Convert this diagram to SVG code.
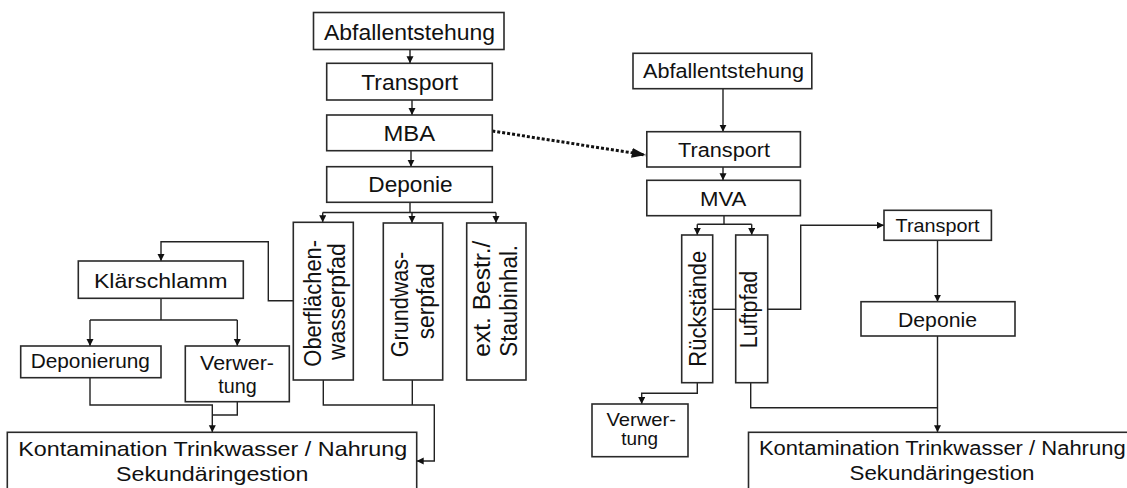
<svg xmlns="http://www.w3.org/2000/svg" width="1127" height="488" viewBox="0 0 1127 488">
<defs>
<style>
.box{fill:#fff;stroke:#2a2a2a;stroke-width:1.6}
.t{font-family:"Liberation Sans",Arial,sans-serif;fill:#111;text-anchor:middle}
.c{fill:none;stroke:#222;stroke-width:1.4}
.dot{fill:none;stroke:#111;stroke-width:3;stroke-dasharray:3 2}
</style>
<marker id="ah" markerUnits="userSpaceOnUse" markerWidth="8" markerHeight="8" refX="7" refY="3.5" orient="auto"><path d="M0,0 L7,3.5 L0,7 z" fill="#111"/></marker>
<marker id="ahBig" markerUnits="userSpaceOnUse" markerWidth="16" markerHeight="12" refX="14" refY="5" orient="auto"><path d="M0,0 L14,5 L0,10 z" fill="#111"/></marker>
</defs>
<rect x="0" y="0" width="1127" height="488" fill="#fff"/>

<g id="connectors">
<path class="c" d="M410,49.3 V63.3" marker-end="url(#ah)"/>
<path class="c" d="M412,100 V115" marker-end="url(#ah)"/>
<path class="c" d="M411,150.7 V166.7" marker-end="url(#ah)"/>
<path class="c" d="M410,202.3 V212.5 M322.7,212.5 H496"/>
<path class="c" d="M322.7,212.5 V222.3" marker-end="url(#ah)"/>
<path class="c" d="M412,212.5 V223" marker-end="url(#ah)"/>
<path class="c" d="M496,212.5 V223" marker-end="url(#ah)"/>
<path class="c" d="M293.3,300.7 H268.3 V241.7 H161 V261" marker-end="url(#ah)"/>
<path class="c" d="M161,298.3 V320 M90,320 H237.3"/>
<path class="c" d="M90,320 V346" marker-end="url(#ah)"/>
<path class="c" d="M237.3,320 V346" marker-end="url(#ah)"/>
<path class="c" d="M90,377.7 V405 H212.3 V432.3" marker-end="url(#ah)"/>
<path class="c" d="M237.3,401.7 V415 H212.3"/>
<path class="c" d="M323.3,380 V405 H434.3 V461 H416.7" marker-end="url(#ah)"/>
<path class="c" d="M412.3,380 V405"/>
<path class="dot" d="M492.3,131 L645.7,155" marker-end="url(#ahBig)"/>
<path class="c" d="M723,88.7 V131.7" marker-end="url(#ah)"/>
<path class="c" d="M723,167 V180.3" marker-end="url(#ah)"/>
<path class="c" d="M724,215.7 V224.3 M697.3,224.3 H751.7"/>
<path class="c" d="M697.3,224.3 V235" marker-end="url(#ah)"/>
<path class="c" d="M751.7,224.3 V235" marker-end="url(#ah)"/>
<path class="c" d="M712.7,309.3 H735.7"/>
<path class="c" d="M767.7,309.3 H800.7 V225.3 H884" marker-end="url(#ah)"/>
<path class="c" d="M937.5,240.3 V301.7" marker-end="url(#ah)"/>
<path class="c" d="M937.5,336 V432.3" marker-end="url(#ah)"/>
<path class="c" d="M750.7,382.7 V407.7 H937.5"/>
<path class="c" d="M697.3,382.7 V393.3 H641.7 V404" marker-end="url(#ah)"/>
</g>

<g id="l-abfall"><rect class="box" x="313.5" y="12.5" width="190.5" height="37"/><text class="t" x="409.5" y="40" font-size="22" textLength="171" lengthAdjust="spacingAndGlyphs">Abfallentstehung</text></g>
<g id="l-transport"><rect class="box" x="326.7" y="63.3" width="165.6" height="36.7"/><text class="t" x="409.7" y="90" font-size="22" textLength="97" lengthAdjust="spacingAndGlyphs">Transport</text></g>
<g id="l-mba"><rect class="box" x="326.7" y="115" width="165.6" height="35.7"/><text class="t" x="409.3" y="140.7" font-size="22" textLength="51.7" lengthAdjust="spacingAndGlyphs">MBA</text></g>
<g id="l-deponie"><rect class="box" x="326.7" y="166.7" width="165.6" height="35.6"/><text class="t" x="410.5" y="191.7" font-size="22" textLength="84.3" lengthAdjust="spacingAndGlyphs">Deponie</text></g>

<g id="l-oberflaechen"><rect class="box" x="293.3" y="222.3" width="60" height="157.7"/>
<text class="t" transform="translate(320.7,303.3) scale(1.1,1) rotate(-90)" font-size="22" textLength="126.7" lengthAdjust="spacingAndGlyphs">Oberflächen-</text>
<text class="t" transform="translate(345,301.7) scale(1.1,1) rotate(-90)" font-size="22" textLength="116.7" lengthAdjust="spacingAndGlyphs">wasserpfad</text></g>
<g id="l-grundwasser"><rect class="box" x="383.3" y="223" width="59.4" height="157"/>
<text class="t" transform="translate(408.3,304.5) scale(1.1,1) rotate(-90)" font-size="22" textLength="105.6" lengthAdjust="spacingAndGlyphs">Grundwas-</text>
<text class="t" transform="translate(434,301.3) scale(1.1,1) rotate(-90)" font-size="22" textLength="76" lengthAdjust="spacingAndGlyphs">serpfad</text></g>
<g id="l-ext"><rect class="box" x="466.7" y="223" width="59.3" height="157"/>
<text class="t" transform="translate(490,298.7) scale(1.1,1) rotate(-90)" font-size="22" textLength="116" lengthAdjust="spacingAndGlyphs">ext. Bestr./</text>
<text class="t" transform="translate(516.7,300.8) scale(1.1,1) rotate(-90)" font-size="22" textLength="111.7" lengthAdjust="spacingAndGlyphs">Staubinhal.</text></g>

<g id="l-klaerschlamm"><rect class="box" x="78.3" y="261" width="165" height="37.3"/><text class="t" x="160.8" y="287.7" font-size="21" textLength="133.7" lengthAdjust="spacingAndGlyphs">Klärschlamm</text></g>
<g id="l-deponierung"><rect class="box" x="20.7" y="346" width="140.3" height="31.7"/><text class="t" x="90.3" y="368.3" font-size="20" textLength="119.3" lengthAdjust="spacingAndGlyphs">Deponierung</text></g>
<g id="l-verwertung"><rect class="box" x="185.3" y="346" width="104" height="55.7"/><text class="t" x="237" y="370" font-size="20" textLength="74" lengthAdjust="spacingAndGlyphs">Verwer-</text><text class="t" x="237.5" y="393.3" font-size="20" textLength="38.4" lengthAdjust="spacingAndGlyphs">tung</text></g>
<g id="l-kontamination"><rect class="box" x="7.3" y="432.3" width="409.4" height="60"/><text class="t" x="212.8" y="456" font-size="21" textLength="389" lengthAdjust="spacingAndGlyphs">Kontamination Trinkwasser / Nahrung</text><text class="t" x="212.2" y="480.7" font-size="21" textLength="192.3" lengthAdjust="spacingAndGlyphs">Sekundäringestion</text></g>

<g id="r-abfall"><rect class="box" x="633" y="53.3" width="178.8" height="35.4"/><text class="t" x="723.5" y="78.3" font-size="20" textLength="161" lengthAdjust="spacingAndGlyphs">Abfallentstehung</text></g>
<g id="r-transport"><rect class="box" x="646.8" y="131.7" width="153.6" height="35.3"/><text class="t" x="724" y="157.3" font-size="20" textLength="92" lengthAdjust="spacingAndGlyphs">Transport</text></g>
<g id="r-mva"><rect class="box" x="646.8" y="180.3" width="153.6" height="35.4"/><text class="t" x="723.2" y="205.7" font-size="20" textLength="46.4" lengthAdjust="spacingAndGlyphs">MVA</text></g>
<g id="r-rueckstaende"><rect class="box" x="681.7" y="235" width="31" height="147.7"/>
<text class="t" transform="translate(706,308.7) scale(1.1,1) rotate(-90)" font-size="22" textLength="116" lengthAdjust="spacingAndGlyphs">Rückstände</text></g>
<g id="r-luftpfad"><rect class="box" x="735.7" y="235" width="32" height="147.7"/>
<text class="t" transform="translate(757.3,309.5) scale(1.1,1) rotate(-90)" font-size="22" textLength="77.6" lengthAdjust="spacingAndGlyphs">Luftpfad</text></g>
<g id="r-transport2"><rect class="box" x="884" y="210.3" width="107.4" height="30"/><text class="t" x="937.6" y="231.7" font-size="18.5" textLength="84" lengthAdjust="spacingAndGlyphs">Transport</text></g>
<g id="r-deponie"><rect class="box" x="861" y="301.7" width="154" height="34.3"/><text class="t" x="937.5" y="326.7" font-size="20" textLength="79" lengthAdjust="spacingAndGlyphs">Deponie</text></g>
<g id="r-verwertung"><rect class="box" x="592" y="404" width="96" height="52.7"/><text class="t" x="641.2" y="425.5" font-size="19" textLength="69.6" lengthAdjust="spacingAndGlyphs">Verwer-</text><text class="t" x="639.7" y="445" font-size="19" textLength="36.8" lengthAdjust="spacingAndGlyphs">tung</text></g>
<g id="r-kontamination"><rect class="box" x="748.5" y="432.3" width="390" height="60"/><text class="t" x="942.3" y="455.3" font-size="20" textLength="366.7" lengthAdjust="spacingAndGlyphs">Kontamination Trinkwasser / Nahrung</text><text class="t" x="942" y="480" font-size="20" textLength="185" lengthAdjust="spacingAndGlyphs">Sekundäringestion</text></g>
</svg>
